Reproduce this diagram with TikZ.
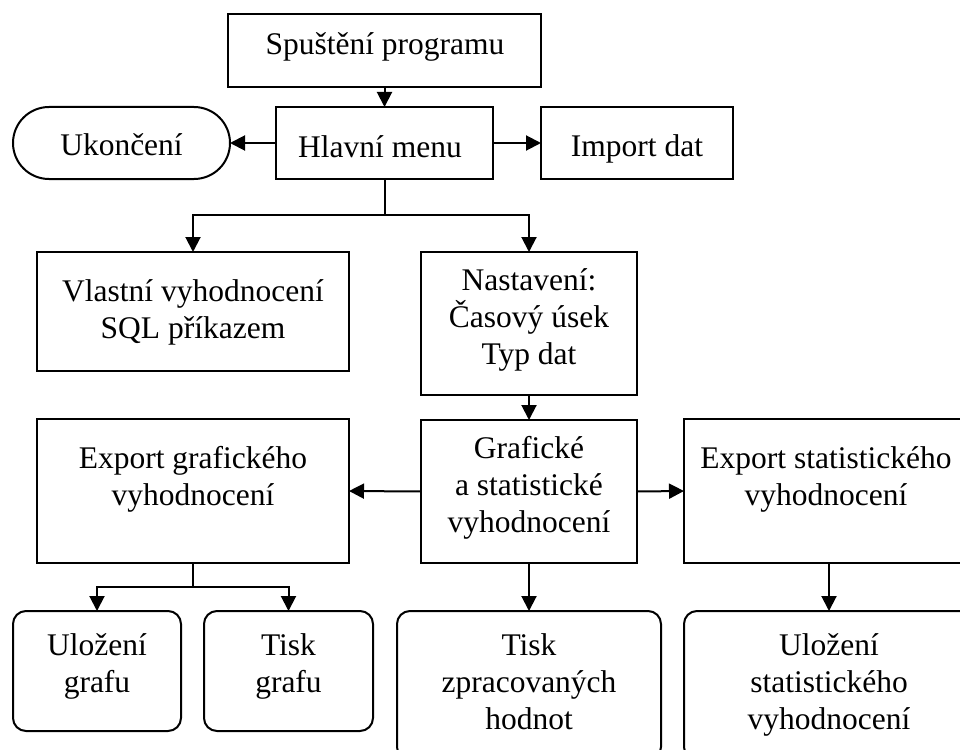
\documentclass[tikz,border=0pt]{standalone}
\usepackage{fontspec}
\setmainfont{Liberation Serif}
\usetikzlibrary{arrows.meta}
\begin{document}
\begin{tikzpicture}[x=1pt,y=-1pt,
  every node/.style={inner sep=0pt, outer sep=0pt},
  box/.style={draw, line width=2pt, rectangle},
  rbox/.style={draw, line width=2pt, rectangle, rounded corners=13pt},
  txt/.style={font=\fontsize{31.5}{37}\selectfont, align=center, anchor=base},
  conn/.style={line width=2pt},
  arr/.style={line width=2pt, -{Triangle[length=15pt,width=15pt]}}]
\useasboundingbox (0,0) rectangle (960,749);
\clip (0,0) rectangle (960,749);
\fill[white] (0,0) rectangle (960,749);
% boxes
\node[box, minimum width=313pt, minimum height=73pt] (start) at (384.5,50.5) {};
\node[box, minimum width=217pt, minimum height=72pt] (menu) at (384.5,143) {};
\node[box, rounded corners=36pt, minimum width=217pt, minimum height=72pt] (konec) at (121.5,143) {};
\node[box, minimum width=192pt, minimum height=72pt] (import) at (637,143) {};
\node[box, minimum width=312pt, minimum height=119pt] (vlastni) at (193,311.5) {};
\node[box, minimum width=216pt, minimum height=143pt] (nastav) at (529,323.5) {};
\node[box, minimum width=216pt, minimum height=143pt] (graf) at (529,491.5) {};
\node[box, minimum width=312pt, minimum height=144pt] (expg) at (193,491) {};
\node[box, minimum width=290pt, minimum height=144pt] (exps) at (829,491) {};
\node[rbox, minimum width=168pt, minimum height=120pt] (ulg) at (97,671) {};
\node[rbox, minimum width=169pt, minimum height=120pt] (tiskg) at (288.5,671) {};
\node[rbox, minimum width=264pt, minimum height=149pt] (tiskz) at (529,685.5) {};
\node[rbox, minimum width=290pt, minimum height=149pt] (uls) at (829,685.5) {};
% texts (anchor = baseline of last line)
\node[txt] (t1) at (385,55) {Spuštění programu};
\node[txt] (t2) at (380,157) {Hlavní menu};
\node[txt] (t3) at (121.5,155) {Ukončení};
\node[txt] (t4) at (637,156) {Import dat};
\node[txt] (t5) at (193,338) {Vlastní vyhodnocení\\SQL příkazem};
\node[txt] (t6) at (529,364) {Nastavení:\\Časový úsek\\Typ dat};
\node[txt] (t7) at (529,532) {Grafické\\a statistické\\vyhodnocení};
\node[txt] (t8) at (193,505) {Export grafického\\vyhodnocení};
\node[txt] (t9) at (826,505) {Export statistického\\vyhodnocení};
\node[txt] (t10) at (97,692) {Uložení\\grafu};
\node[txt] (t11) at (288.5,692) {Tisk\\grafu};
\node[txt] (t12) at (529,729) {Tisk\\zpracovaných\\hodnot};
\node[txt] (t13) at (829,729) {Uložení\\statistického\\vyhodnocení};
% connectors
\coordinate (j1) at (384.5,215);
\coordinate (j2) at (193,587);
\draw[arr] (start.south) -- (menu.north);
\draw[arr] (menu.west) -- (konec.east);
\draw[arr] (menu.east) -- (import.west);
\draw[conn] (menu.south) -- (j1);
\draw[arr] (j1) -| (vlastni.north);
\draw[arr] (j1) -| (nastav.north);
\draw[arr] (nastav.south) -- (graf.north);
\draw[arr] (graf.west) -- (expg.east);
\draw[arr] (graf.east) -- (exps.west);
\draw[arr] (graf.south) -- (tiskz.north);
\draw[arr] (exps.south) -- (uls.north);
\draw[conn] (expg.south) -- (j2);
\draw[arr] (j2) -| (ulg.north);
\draw[arr] (j2) -| (tiskg.north);
\end{tikzpicture}
\end{document}
